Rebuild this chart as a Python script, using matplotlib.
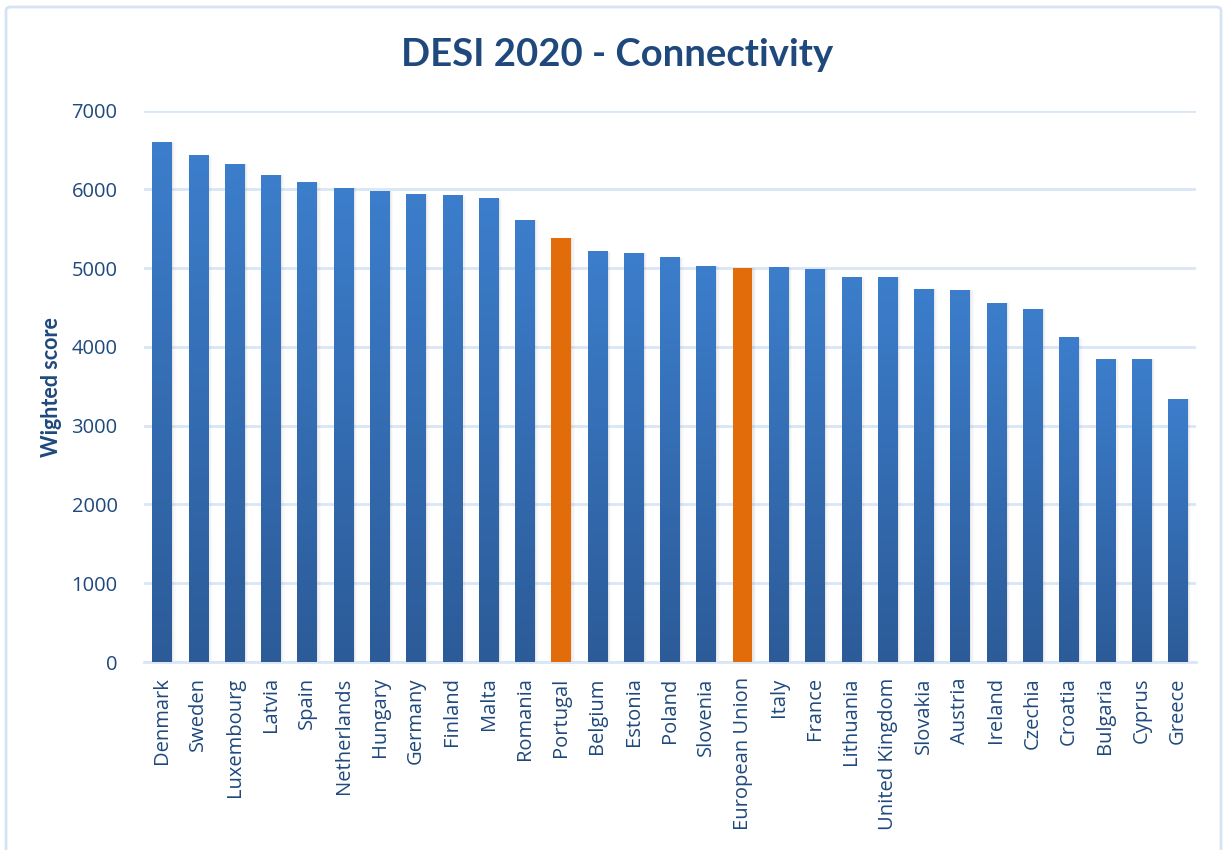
import numpy as np
import matplotlib
matplotlib.use("Agg")
import matplotlib.pyplot as plt
from matplotlib.colors import LinearSegmentedColormap
from matplotlib.patches import FancyBboxPatch

# DESI 2020 connectivity, weighted score per member state
countries = ["Denmark", "Sweden", "Luxembourg", "Latvia", "Spain", "Netherlands",
             "Hungary", "Germany", "Finland", "Malta", "Romania", "Portugal",
             "Belgium", "Estonia", "Poland", "Slovenia", "European Union", "Italy",
             "France", "Lithuania", "United Kingdom", "Slovakia", "Austria",
             "Ireland", "Czechia", "Croatia", "Bulgaria", "Cyprus", "Greece"]
scores = [6590, 6425, 6323, 6183, 6082, 6018, 5980, 5942, 5917, 5879, 5612, 5383,
          5206, 5193, 5130, 5028, 5003, 5003, 4990, 4888, 4888, 4736, 4723,
          4558, 4482, 4114, 3847, 3847, 3339]
highlighted = ["Portugal", "European Union"]
yticks = [0, 1000, 2000, 3000, 4000, 5000, 6000, 7000]

TEXT = "#1F497D"
BLUE_TOP = "#3C7ECC"
BLUE_BOTTOM = "#2C5B98"
ORANGE = "#E36C0A"
GRID = "#D9E6F5"

plt.rcParams["font.family"] = ["Open Sans", "DejaVu Sans"]

fig = plt.figure(figsize=(12.27, 8.5), dpi=100)
fig.patch.set_facecolor("white")

# chart frame
frame = FancyBboxPatch((6 / 1227, -0.02), 1 - 12 / 1227, 1.02 - 7 / 850,
                       boxstyle="round,pad=0,rounding_size=0.004",
                       transform=fig.transFigure, facecolor="none",
                       edgecolor="#D5E3F3", linewidth=2, zorder=0)
fig.patches.append(frame)

ax = fig.add_axes([144 / 1227, 1 - 662 / 850, (1196 - 144) / 1227, (662 - 110.7) / 850])
x = np.arange(len(countries))
width = 0.54

bars = ax.bar(x, scores, width=width, color="none", edgecolor="none", zorder=3)

blue_cmap = LinearSegmentedColormap.from_list("bluegrad", [BLUE_BOTTOM, BLUE_TOP])
grad = np.linspace(0, 1, 256).reshape(-1, 1)

for name, rect in zip(countries, bars):
    x0, y0 = rect.get_x(), rect.get_y()
    w, h = rect.get_width(), rect.get_height()
    # soft shadow on the right side
    for k, a in enumerate([0.10, 0.06, 0.03]):
        ax.bar(x0 + w / 2 + 0.035 * (k + 1), h, width=w, bottom=y0,
               color="#7F7F7F", alpha=a, linewidth=0, zorder=2)
    if name in highlighted:
        ax.bar(x0 + w / 2, h, width=w, bottom=y0, color=ORANGE,
               linewidth=0, zorder=3)
    else:
        ax.imshow(grad, cmap=blue_cmap, origin="lower", aspect="auto",
                  extent=(x0, x0 + w, y0, y0 + h), zorder=3,
                  interpolation="bilinear")

ax.set_xlim(-0.5, len(countries) - 0.5)
ax.set_ylim(0, 7000)
ax.set_yticks(yticks)
ax.set_yticklabels([str(v) for v in yticks])
ax.set_xticks(x)
ax.set_xticklabels(countries, rotation=90)
ax.tick_params(axis="y", length=0, pad=19, labelsize=14.5, labelcolor=TEXT)
ax.tick_params(axis="x", length=0, pad=11, labelsize=14.5, labelcolor=TEXT)
ax.grid(axis="y", color=GRID, linewidth=2, zorder=0)
ax.set_axisbelow(True)
for s in ["top", "right", "left"]:
    ax.spines[s].set_visible(False)
ax.spines["bottom"].set_color(GRID)
ax.spines["bottom"].set_linewidth(2)
ax.set_facecolor("none")

fig.text(0.503, 1 - 55 / 850, "DESI 2020 - Connectivity", ha="center", va="center",
         fontsize=27.5, fontweight="bold", color=TEXT, family=["Lato", "DejaVu Sans"])
fig.text(52 / 1227, 1 - 387 / 850, "Wighted score", ha="center", va="center",
         rotation=90, fontsize=15.5, fontweight="bold", color=TEXT,
         family=["Lato", "DejaVu Sans"])

fig.savefig("out.png", dpi=100, facecolor="white")
